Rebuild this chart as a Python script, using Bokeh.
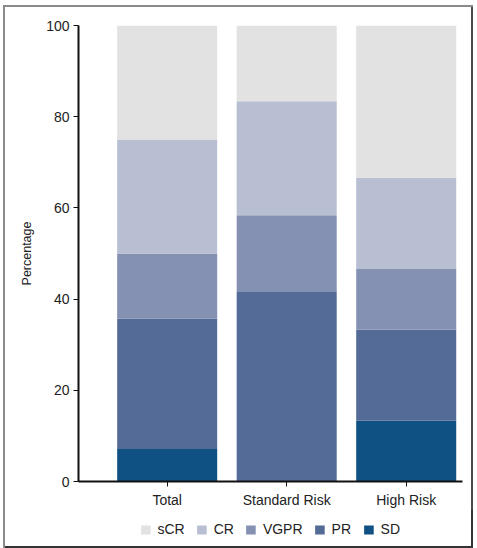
from bokeh.plotting import figure
from bokeh.layouts import column
from bokeh.models import Range1d, FixedTicker, Legend, LegendItem, ColumnDataSource
from bokeh.embed import file_html
from bokeh.resources import INLINE

categories = ["Total", "Standard Risk", "High Risk"]
sd = [7.1, 0.0, 13.3]
pr = [28.6, 41.7, 20.0]
vgpr = [14.3, 16.7, 13.3]
cr = [25.0, 25.0, 20.0]
scr = [25.0, 16.6, 33.4]
y_ticks = [0, 20, 40, 60, 80, 100]

series = ["SD", "PR", "VGPR", "CR", "sCR"]
legend_order = ["sCR", "CR", "VGPR", "PR", "SD"]
colors = {"SD": "#0f5183", "PR": "#546b98", "VGPR": "#8591b3", "CR": "#b8bfd3", "sCR": "#e2e2e2"}

source = ColumnDataSource({"x": list(range(len(categories))), "SD": sd, "PR": pr,
                           "VGPR": vgpr, "CR": cr, "sCR": scr})

FONT = "'Liberation Sans', Arial, sans-serif"

# main chart
p = figure(output_backend="svg", toolbar_location=None,
           x_range=Range1d(-0.742, 2.471), y_range=Range1d(0, 100),
           frame_width=384, frame_height=456,
           min_border_left=75, min_border_top=20, min_border_right=11, min_border_bottom=0)

rs = p.vbar_stack(series, x="x", width=0.837, source=source,
                  fill_color=[colors[s] for s in series], line_color=None)

p.xgrid.visible = False
p.ygrid.visible = False
p.outline_line_color = None
p.background_fill_color = "white"
p.border_fill_color = None
p.styles = {"box-shadow": "inset 2px 2px 0 #8a8a8a, inset -2px 0 0 #4a4a4a"}

p.xaxis.ticker = FixedTicker(ticks=list(range(len(categories))))
p.xaxis.major_label_overrides = {i: c for i, c in enumerate(categories)}
p.yaxis.ticker = FixedTicker(ticks=y_ticks)
p.yaxis.axis_label = "Percentage"
p.yaxis.axis_label_text_font = FONT
p.yaxis.axis_label_text_font_style = "normal"
p.yaxis.axis_label_text_font_size = "12.5px"
p.yaxis.axis_label_standoff = 9

for ax in (p.xaxis, p.yaxis):
    ax.axis_line_width = 2
    ax.axis_line_color = "#111111"
    ax.major_tick_line_color = "#111111"
    ax.major_tick_line_width = 1
    ax.major_tick_in = 0
    ax.major_tick_out = 5
    ax.minor_tick_line_color = None
    ax.major_label_text_font = FONT
    ax.major_label_text_font_size = "14px"
    ax.major_label_text_color = "#222222"
    ax.axis_label_text_color = "#222222"
p.xaxis.major_label_standoff = 5
p.yaxis.major_label_standoff = 4

# legend strip below the chart (its bars lie outside its ranges; only the legend shows)
lg = figure(output_backend="svg", toolbar_location=None,
            x_axis_type=None, y_axis_type=None,
            x_range=Range1d(100, 101), y_range=Range1d(1000, 1001),
            frame_width=384, frame_height=38,
            min_border_left=75, min_border_top=0, min_border_right=11, min_border_bottom=0)
lg.outline_line_color = None
lg.xgrid.visible = False
lg.ygrid.visible = False
lg.background_fill_color = None
lg.border_fill_color = None
lg.styles = {"box-shadow": "inset 2px 0 0 #8a8a8a, inset -2px -2px 0 #333333"}

items = []
for s in legend_order:
    r = lg.vbar(x="x", top=s, width=0.837, source=source,
                fill_color=colors[s], line_color=None)
    items.append(LegendItem(label=s, renderers=[r]))

legend = Legend(items=items, orientation="horizontal", location="center",
                label_text_font=FONT, label_text_font_size="14px", label_text_color="#222222",
                glyph_width=12, glyph_height=11, label_standoff=6, spacing=11,
                label_height=14, padding=0, margin=0, border_line_color=None,
                background_fill_alpha=0)
lg.add_layout(legend, "center")

layout = column(p, lg, spacing=0)
layout.styles = {"margin-left": "3px", "margin-top": "5px"}

open("out.html", "w").write(file_html(layout, INLINE))
